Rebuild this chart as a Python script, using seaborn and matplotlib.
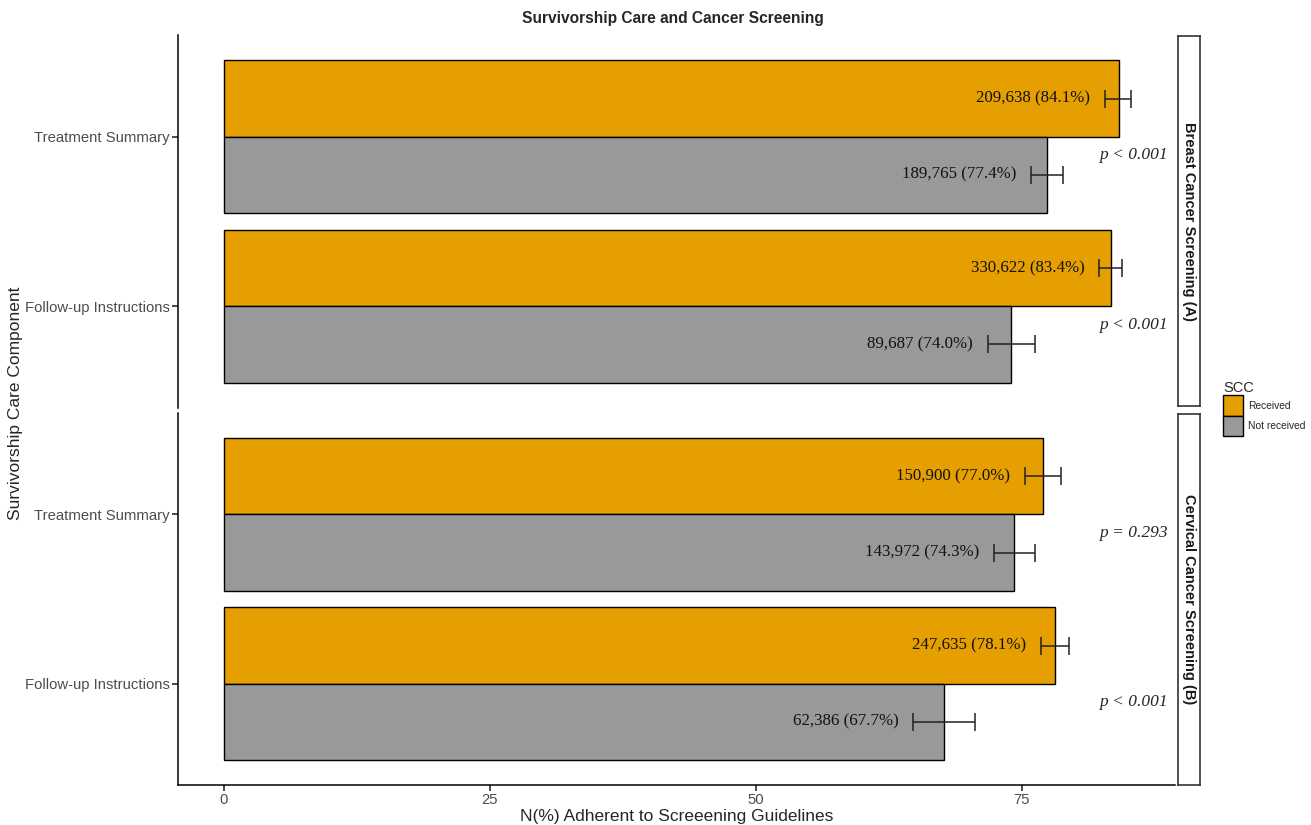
import numpy as np
import pandas as pd
import matplotlib
matplotlib.use("Agg")
import matplotlib.pyplot as plt
import matplotlib.patches as mpatches
import seaborn as sns

# datos
panels = ["Breast Cancer Screening (A)", "Cervical Cancer Screening (B)"]
components = ["Treatment Summary", "Follow-up Instructions"]
scc_levels = ["Received", "Not received"]

panel_col = ["Breast Cancer Screening (A)"] * 4 + ["Cervical Cancer Screening (B)"] * 4
component_col = ["Treatment Summary", "Treatment Summary", "Follow-up Instructions", "Follow-up Instructions"] * 2
scc_col = ["Received", "Not received"] * 4
pct = [84.1, 77.4, 83.4, 74.0, 77.0, 74.3, 78.1, 67.7]
n_adherent = [209638, 189765, 330622, 89687, 150900, 143972, 247635, 62386]
ci_low = [82.8, 75.9, 82.3, 71.8, 75.3, 72.4, 76.8, 64.8]
ci_high = [85.3, 78.9, 84.4, 76.2, 78.7, 76.2, 79.4, 70.6]

p_panel = ["Breast Cancer Screening (A)", "Breast Cancer Screening (A)",
           "Cervical Cancer Screening (B)", "Cervical Cancer Screening (B)"]
p_component = ["Treatment Summary", "Follow-up Instructions"] * 2
p_text = ["p < 0.001", "p < 0.001", "p = 0.293", "p < 0.001"]

df = pd.DataFrame({
    "panel": panel_col,
    "component": component_col,
    "scc": scc_col,
    "pct": pct,
    "n": n_adherent,
    "low": ci_low,
    "high": ci_high,
})

colores = {"Received": "#E69F00", "Not received": "#999999"}

sns.set_theme(style="white")
plt.rcParams["font.family"] = ["Liberation Sans", "DejaVu Sans"]

fig = plt.figure(figsize=(13.11, 8.25), dpi=100)

W, H = 1311, 825
def box(x0, y0, x1, y1):
    return [x0 / W, 1 - y1 / H, (x1 - x0) / W, (y1 - y0) / H]

panel_boxes = [box(178, 35, 1175, 408), box(178, 413, 1175, 785)]
strip_boxes = [box(1178, 36, 1200, 406), box(1178, 414, 1200, 785)]

bar_w = 0.9
offset = {"Received": -bar_w / 4, "Not received": bar_w / 4}

for k, panel in enumerate(panels):
    ax = fig.add_axes(panel_boxes[k])
    sub = df[df["panel"] == panel]
    sns.barplot(data=sub, x="pct", y="component", hue="scc", order=components,
                hue_order=scc_levels, palette=colores, saturation=1,
                edgecolor="black", linewidth=1, width=bar_w, gap=0,
                errorbar=None, legend=False, orient="h", ax=ax)

    for _, row in sub.iterrows():
        yy = components.index(row["component"]) + offset[row["scc"]]
        ax.errorbar([row["pct"]], [yy],
                    xerr=[[row["pct"] - row["low"]], [row["high"] - row["pct"]]],
                    fmt="none", ecolor="#222222", elinewidth=1.1, capsize=6.5,
                    capthick=1.1)
        ax.text(row["low"] - 1.4, yy, f"{row['n']:,} ({row['pct']:.1f}%)",
                ha="right", va="center", fontsize=12.2,
                family=["Liberation Serif", "DejaVu Serif"], color="#111111")

    for pp, pc, pt in zip(p_panel, p_component, p_text):
        if pp == panel:
            ax.text(85.5, components.index(pc) + 0.11, pt, ha="center",
                    va="center", fontsize=12.5, style="italic",
                    family=["Liberation Serif", "DejaVu Serif"])

    ax.set_xlim(-4.3, 89.4)
    ax.set_ylim(1.6, -0.6)
    ax.set_ylabel("")
    ax.set_xlabel("")
    for s in ["top", "right"]:
        ax.spines[s].set_visible(False)
    ax.spines["left"].set_color("black")
    ax.spines["left"].set_linewidth(1.1)
    ax.tick_params(axis="y", length=4, color="#333333", labelsize=10.7,
                   labelcolor="#4D4D4D", left=True, pad=2)
    if k == 0:
        ax.spines["bottom"].set_visible(False)
        ax.set_xticks([])
    else:
        ax.spines["bottom"].set_color("black")
        ax.spines["bottom"].set_linewidth(1.1)
        ax.set_xticks([0, 25, 50, 75])
        ax.tick_params(axis="x", length=4, color="#333333", labelsize=10.7,
                       labelcolor="#4D4D4D", bottom=True, pad=2)
        ax.set_xlabel("N(%) Adherent to Screeening Guidelines", fontsize=12.5,
                      labelpad=1)

    # tira del facet
    sax = fig.add_axes(strip_boxes[k])
    sax.set_xticks([])
    sax.set_yticks([])
    sax.set_facecolor("white")
    for s in sax.spines.values():
        s.set_color("#333333")
        s.set_linewidth(1.2)
    sax.text(0.5, 0.5, panel, rotation=270, ha="center", va="center",
             fontsize=10.5, fontweight="bold", color="#1A1A1A",
             transform=sax.transAxes)

fig.text(16 / W, 1 - 403 / H, "Survivorship Care Component", rotation=90,
         ha="center", va="center", fontsize=12.5)
fig.text(673 / W, 1 - 19 / H, "Survivorship Care and Cancer Screening",
         ha="center", va="center", fontsize=11.2, fontweight="bold")

handles = [mpatches.Patch(facecolor=colores[s], edgecolor="black", label=s)
           for s in scc_levels]
leg = fig.legend(handles=handles, title="SCC", loc="upper left",
                 bbox_to_anchor=(1216 / W, 1 - 374 / H), frameon=False,
                 fontsize=7.4, title_fontsize=10.5, handlelength=1.95,
                 handleheight=2.7, handletextpad=0.5, labelspacing=0.0,
                 borderpad=0.2)
leg._legend_box.align = "left"

fig.savefig("out.png", dpi=100)
